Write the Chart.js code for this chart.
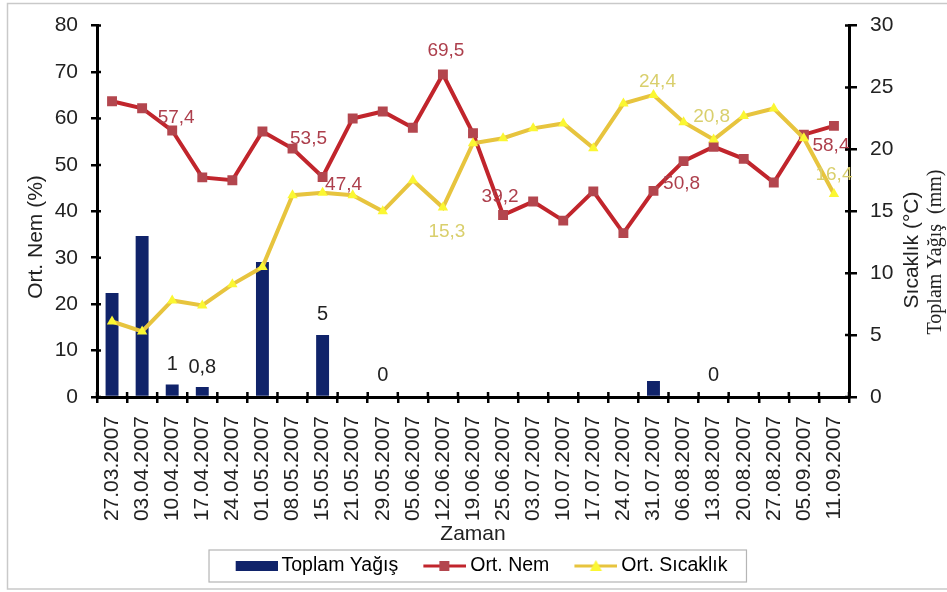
<!DOCTYPE html>
<html>
<head>
<meta charset="utf-8">
<script src="https://cdn.jsdelivr.net/npm/chart.js@4.4.0/dist/chart.umd.min.js"></script>
<style>
    html, body { margin: 0; padding: 0; background: #fff; }
</style>
</head>
<body>
<canvas id="myChart" width="947" height="592"></canvas>
<script>
const dates = ['27.03.2007', '03.04.2007', '10.04.2007', '17.04.2007', '24.04.2007', '01.05.2007',
    '08.05.2007', '15.05.2007', '21.05.2007', '29.05.2007', '05.06.2007', '12.06.2007', '19.06.2007',
    '25.06.2007', '03.07.2007', '10.07.2007', '17.07.2007', '24.07.2007', '31.07.2007', '06.08.2007',
    '13.08.2007', '20.08.2007', '27.08.2007', '05.09.2007', '11.09.2007'];

// mm
const toplamYagis = [8.4, 13.0, 1, 0.8, 0, 10.9, 0, 5, 0, 0, 0, 0, 0,
    0, 0, 0, 0, 0, 1.3, 0, 0, 0, 0, 0, 0];
// %
const ortNem = [63.7, 62.2, 57.4, 47.3, 46.7, 57.2, 53.5, 47.4, 60.0, 61.5, 58.0, 69.5, 56.8,
    39.2, 42.1, 38.0, 44.3, 35.3, 44.4, 50.8, 53.9, 51.3, 46.2, 56.5, 58.4];
// °C
const ortSicaklik = [6.1, 5.3, 7.8, 7.4, 9.1, 10.5, 16.3, 16.5, 16.3, 15.0, 17.5, 15.3, 20.5,
    20.9, 21.7, 22.1, 20.1, 23.7, 24.4, 22.2, 20.8, 22.7, 23.3, 20.9, 16.4];

// which points carry a value label, and where the label sits relative to the point
const yagisEtiket = {2: [0, -20], 3: [0, -20], 7: [0, -21], 9: [0, -22], 20: [0, -22]};
const nemEtiket = {2: [4, -13], 6: [16, -10], 7: [21, 8], 11: [3, -24], 13: [-3, -18], 19: [-2, 23], 24: [-3, 20]};
const sicaklikEtiket = {11: [4, 24], 18: [4, -13], 20: [-2, -23], 24: [0, -19]};

const FONT = "'Liberation Sans', Arial, sans-serif";
const NAVY = '#10236a';
const RED = '#c1252c';
const RED_PT = '#b3464e';
const GOLD = '#e7c43e';
const YELLOW_PT = '#fbf732';

// legend icons: wide canvas, visible mark sits on its right part (x 21..64)
function legendIcon(kind) {
    const c = document.createElement('canvas');
    c.width = 64;
    c.height = 14;
    const ctx = c.getContext('2d');
    if (kind === 'bar') {
        ctx.fillStyle = NAVY;
        ctx.fillRect(22, 2, 42, 10);
    } else if (kind === 'nem') {
        ctx.strokeStyle = RED;
        ctx.lineWidth = 3;
        ctx.beginPath(); ctx.moveTo(21, 7); ctx.lineTo(64, 7); ctx.stroke();
        ctx.fillStyle = RED_PT;
        ctx.fillRect(37, 2, 10, 10);
    } else {
        ctx.strokeStyle = GOLD;
        ctx.lineWidth = 3;
        ctx.beginPath(); ctx.moveTo(21, 7); ctx.lineTo(64, 7); ctx.stroke();
        ctx.fillStyle = YELLOW_PT;
        ctx.beginPath(); ctx.moveTo(42.5, 1); ctx.lineTo(48.5, 12); ctx.lineTo(36.5, 12); ctx.closePath(); ctx.fill();
    }
    return c;
}
const legendIcons = [legendIcon('bar'), legendIcon('nem'), legendIcon('sicaklik')];

function fmt(v) {
    return String(v).replace('.', ',');
}

const extrasPlugin = {
    id: 'extras',
    beforeDraw(chart) {
        const ctx = chart.ctx;
        ctx.save();
        ctx.fillStyle = '#fff';
        ctx.fillRect(0, 0, chart.width, chart.height);
        ctx.strokeStyle = '#c9c9c9';
        ctx.lineWidth = 1.5;
        ctx.strokeRect(7.5, 3.5, 960, 585.5);
        ctx.restore();
    },
    afterDatasetsDraw(chart) {
        const ctx = chart.ctx;
        ctx.save();
        ctx.textAlign = 'center';
        ctx.textBaseline = 'middle';
        const put = (dsIndex, map, values, color, size) => {
            const meta = chart.getDatasetMeta(dsIndex);
            ctx.fillStyle = color;
            ctx.font = size + 'px ' + FONT;
            Object.keys(map).forEach((k) => {
                const el = meta.data[k];
                const [dx, dy] = map[k];
                ctx.fillText(fmt(values[k]), el.x + dx, el.y + dy);
            });
        };
        put(0, yagisEtiket, toplamYagis, '#222', 20);
        put(1, nemEtiket, ortNem, '#ad3f4c', 19);
        put(2, sicaklikEtiket, ortSicaklik, '#d9cf6c', 19);
        ctx.restore();
    },
    afterDraw(chart) {
        const ctx = chart.ctx;
        const area = chart.chartArea;
        const x = chart.scales.x, y = chart.scales.y, y1 = chart.scales.y1;
        ctx.save();
        // inner half of the tick marks
        ctx.strokeStyle = '#000';
        ctx.lineWidth = 2.5;
        ctx.beginPath();
        y.ticks.forEach((t) => {
            const py = y.getPixelForValue(t.value);
            ctx.moveTo(area.left, py); ctx.lineTo(area.left + 4, py);
        });
        y1.ticks.forEach((t) => {
            const py = y1.getPixelForValue(t.value);
            ctx.moveTo(area.right, py); ctx.lineTo(area.right - 4, py);
        });
        for (let i = 0; i <= dates.length; i++) {
            const px = x.getPixelForValue(i - 0.5);
            ctx.moveTo(px, area.bottom); ctx.lineTo(px, area.bottom - 5);
        }
        ctx.stroke();

        // legend frame
        const boxes = chart.legend.legendHitBoxes;
        const first = boxes[0], last = boxes[boxes.length - 1];
        const fl = first.left - 10.5;
        const fr = last.left + last.width + 19;
        ctx.strokeStyle = '#b5b5b5';
        ctx.lineWidth = 1.2;
        ctx.strokeRect(fl, chart.legend.top + 3.75, fr - fl, 32);

        // axis titles
        ctx.fillStyle = '#222';
        ctx.textAlign = 'center';
        ctx.textBaseline = 'middle';
        const vtext = (txt, cx, cy, font) => {
            ctx.save();
            ctx.translate(cx, cy);
            ctx.rotate(-Math.PI / 2);
            ctx.font = font;
            ctx.fillText(txt, 0, 0);
            ctx.restore();
        };
        vtext('Ort. Nem (%)', 36, 237, '21px ' + FONT);
        vtext('Sıcaklık (°C)', 912, 250, '21px ' + FONT);
        vtext('Toplam Yağış  (mm)', 936, 252, "20px 'Liberation Serif', 'Times New Roman', serif");
        ctx.restore();
    }
};

const tickFont = {family: FONT, size: 21};

const config = {
    type: 'bar',
    data: {
        labels: dates,
        datasets: [{
            type: 'bar',
            label: 'Toplam Yağış',
            data: toplamYagis,
            yAxisID: 'y1',
            backgroundColor: NAVY,
            barPercentage: 0.43,
            categoryPercentage: 1,
            order: 3
        }, {
            type: 'line',
            label: 'Ort. Nem',
            data: ortNem,
            yAxisID: 'y',
            borderColor: RED,
            borderWidth: 4,
            tension: 0,
            pointStyle: 'rect',
            pointRadius: 7,
            pointBackgroundColor: RED_PT,
            pointBorderColor: RED_PT,
            pointBorderWidth: 0,
            order: 2
        }, {
            type: 'line',
            label: 'Ort. Sıcaklık',
            data: ortSicaklik,
            yAxisID: 'y1',
            borderColor: GOLD,
            borderWidth: 4,
            tension: 0,
            pointStyle: 'triangle',
            pointRadius: 6,
            pointBackgroundColor: YELLOW_PT,
            pointBorderColor: YELLOW_PT,
            pointBorderWidth: 0,
            order: 1
        }]
    },
    options: {
        responsive: false,
        animation: false,
        layout: {padding: {top: 18, left: 8, right: 8, bottom: 6.25}},
        plugins: {
            tooltip: {enabled: false},
            legend: {
                position: 'bottom',
                labels: {
                    usePointStyle: true,
                    pointStyleWidth: 52.25,
                    boxHeight: 14,
                    padding: 10,
                    color: '#111',
                    font: {family: FONT, size: 19.5},
                    generateLabels: (chart) => chart.data.datasets.map((ds, i) => ({
                        text: ds.label,
                        pointStyle: legendIcons[i],
                        fillStyle: 'transparent',
                        strokeStyle: 'transparent',
                        lineWidth: 0,
                        hidden: false,
                        datasetIndex: i
                    }))
                }
            }
        },
        scales: {
            x: {
                offset: true,
                grid: {drawOnChartArea: false, offset: true, tickLength: 6, color: '#000', lineWidth: 2.5},
                border: {color: '#000', width: 3},
                ticks: {autoSkip: false, minRotation: 90, maxRotation: 90, padding: 13, color: '#222', font: tickFont},
                title: {display: true, text: 'Zaman', color: '#222', font: {family: FONT, size: 21}, padding: {top: 0, bottom: -1}},
                afterFit: (s) => { s.height = 149.25; }
            },
            y: {
                position: 'left',
                min: 0,
                max: 80,
                grid: {drawOnChartArea: false, tickLength: 6, color: '#000', lineWidth: 2.5},
                border: {color: '#000', width: 3},
                ticks: {stepSize: 10, padding: 13, color: '#222', font: tickFont},
                afterFit: (s) => { s.width = 89; }
            },
            y1: {
                position: 'right',
                min: 0,
                max: 30,
                grid: {drawOnChartArea: false, tickLength: 8, color: '#000', lineWidth: 2.5},
                border: {color: '#000', width: 3},
                ticks: {stepSize: 5, padding: 13, color: '#222', font: tickFont},
                afterFit: (s) => { s.width = 90; }
            }
        }
    },
    plugins: [extrasPlugin]
};

const myChart = new Chart(document.getElementById('myChart'), config);
</script>
</body>
</html>
